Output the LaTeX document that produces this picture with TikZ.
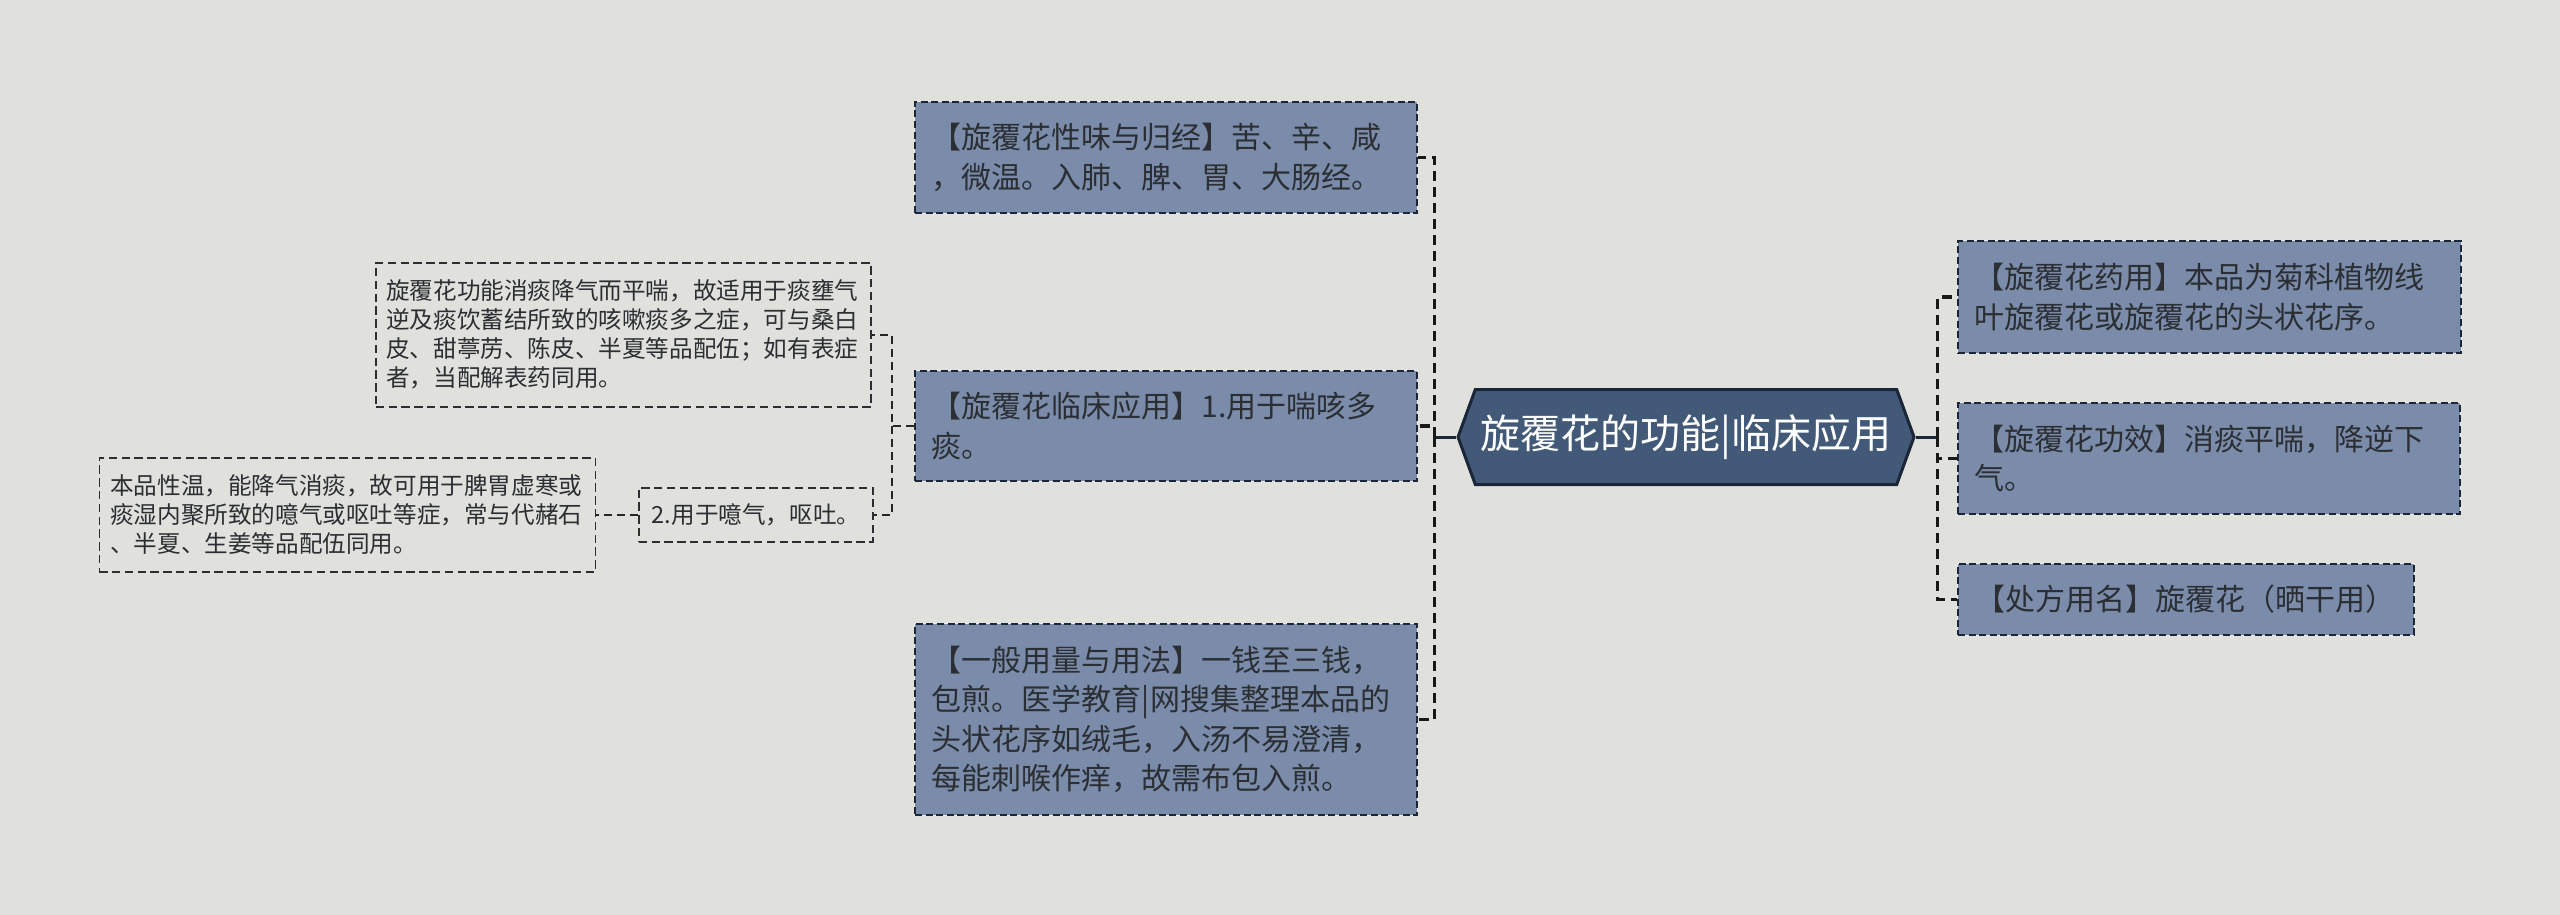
\documentclass[tikz,border=0pt]{standalone}
\usepackage{fontspec}
\setmainfont{Noto Sans CJK SC}
\usepackage{tikz}
\usetikzlibrary{positioning,shapes.symbols}
\definecolor{HerbBg}{HTML}{E0E1DC}
\definecolor{HerbNavy}{HTML}{425A78}
\definecolor{HerbEdge}{HTML}{1B2638}
\definecolor{HerbSlate}{HTML}{7A8CAA}
\definecolor{HerbInk}{HTML}{2B2E33}
\tikzset{
  rootbox/.style={signal,signal to=west and east,signal pointer angle=140,draw=HerbEdge,line width=1.5pt,fill=HerbNavy,text=white,font=\fontsize{20}{24}\selectfont,minimum width=228pt,minimum height=47.5pt,inner sep=0pt},
  leafbox/.style={draw=HerbEdge,fill=HerbSlate,line width=0.9pt,dash pattern=on 3.5pt off 1.8pt,preaction={draw=HerbBg!60!white,solid,line width=0.9pt},text=HerbInk,align=left,font=\fontsize{15}{19.8}\selectfont,inner xsep=8.5pt,inner ysep=2pt,anchor=north west},
  notebox/.style={draw=HerbInk,line width=0.75pt,dash pattern=on 4.2pt off 2.2pt,text=HerbInk,align=left,font=\fontsize{11.8}{14.5}\selectfont,inner ysep=2pt,anchor=north west},
  linkline/.style={draw=black!90,line width=1.6pt,dash pattern=on 5pt off 3pt},
  stubline/.style={draw=HerbEdge,line width=1.5pt},
  sublink/.style={draw=black!85,line width=0.9pt,dash pattern=on 4pt off 2.5pt}
}
\begin{document}
\begin{tikzpicture}[x=0.5pt,y=-0.5pt]
\fill[HerbBg] (0,0) rectangle (2560,915);
\useasboundingbox (0,0) rectangle (2560,915);
\node[rootbox] (root) at (1686,437) {旋覆花的功能|临床应用};
% left side
\node[leafbox,text width=234pt,minimum height=55.5pt] (xingwei) at (914,101) {【旋覆花性味与归经】苦、辛、咸\\，微温。入肺、脾、胃、大肠经。};
\node[leafbox,text width=234pt,minimum height=55pt] (linchuang) at (914,370) {【旋覆花临床应用】1.用于喘咳多\\痰。};
\node[leafbox,text width=234pt,minimum height=95.5pt] (yongfa) at (914,623) {【一般用量与用法】一钱至三钱，\\包煎。医学教育|网搜集整理本品的\\头状花序如绒毛，入汤不易澄清，\\每能刺喉作痒，故需布包入煎。};
% right side
\node[leafbox,text width=234.5pt,minimum height=56pt] (yaoyong) at (1957,240) {【旋覆花药用】本品为菊科植物线\\叶旋覆花或旋覆花的头状花序。};
\node[leafbox,text width=234pt,minimum height=55.5pt] (gongxiao) at (1957,402) {【旋覆花功效】消痰平喘，降逆下\\气。};
\node[leafbox,inner xsep=9pt,minimum height=35.5pt] (chufang) at (1957,563) {【处方用名】旋覆花（晒干用）};
% notes of the clinical use
\node[notebox,text width=237pt,inner xsep=5.25pt,minimum height=72pt] (xiaotan) at (375,262) {旋覆花功能消痰降气而平喘，故适用于痰壅气\\逆及痰饮蓄结所致的咳嗽痰多之症，可与桑白\\皮、甜葶苈、陈皮、半夏等品配伍；如有表症\\者，当配解表药同用。};
\node[notebox,inner xsep=6.5pt,minimum height=27pt] (aiqi) at (638,487) {2.用于噫气，呕吐。};
\node[notebox,left=21pt of aiqi,text width=237pt,inner xsep=5.5pt,minimum height=57pt] (benpin) {本品性温，能降气消痰，故可用于脾胃虚寒或\\痰湿内聚所致的噫气或呕吐等症，常与代赭石\\、半夏、生姜等品配伍同用。};
% connectors
\coordinate[left=11pt of root.west] (ltrunk);
\coordinate[right=11pt of root.east] (rtrunk);
\draw[stubline] (root.west) -- (ltrunk);
\draw[stubline] (root.east) -- (rtrunk);
\foreach \n in {xingwei,linchuang,yongfa} \draw[linkline] (ltrunk) |- (\n.east);
\foreach \n in {yaoyong,gongxiao,chufang} \draw[linkline] (rtrunk) |- (\n.west);
\coordinate[left=11pt of linchuang.west] (btrunk);
\draw[sublink] (linchuang.west) -- (btrunk) |- (xiaotan.east);
\draw[sublink] (btrunk) |- (aiqi.east);
\draw[sublink] (aiqi.west) -- (benpin.east);
\end{tikzpicture}
\end{document}
